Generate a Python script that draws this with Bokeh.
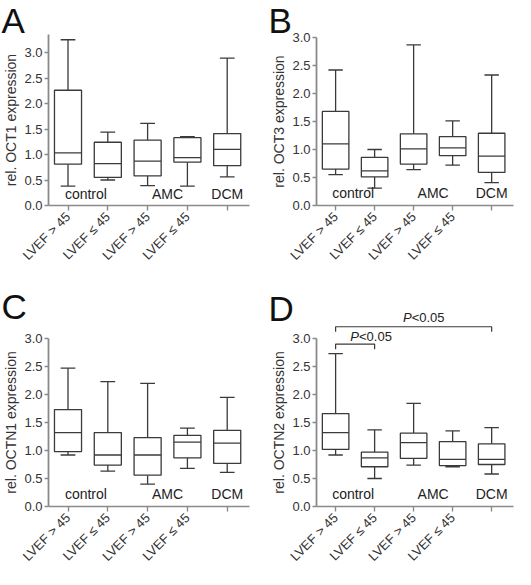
import math
import numpy as np
from bokeh.plotting import figure
from bokeh.models import Range1d, FixedTicker, NumeralTickFormatter
from bokeh.layouts import column, row
from bokeh.core.properties import value
from bokeh.embed import file_html
from bokeh.resources import INLINE

# ---------------- data ----------------
positions = [1, 2, 3, 4, 5]
tick_labels = ["LVEF > 45", "LVEF \u2264 45", "LVEF > 45", "LVEF \u2264 45", ""]
group_names = ["control", "AMC", "DCM"]
group_pos = [1.45, 3.5, 5.0]
y_ticks = [0.0, 0.5, 1.0, 1.5, 2.0, 2.5, 3.0]

# OCT1 (A)
a_lo = [0.38, 0.50, 0.39, 0.38, 0.56]
a_q1 = [0.81, 0.55, 0.58, 0.85, 0.78]
a_med = [1.03, 0.82, 0.87, 0.94, 1.10]
a_q3 = [2.26, 1.24, 1.28, 1.33, 1.41]
a_hi = [3.25, 1.44, 1.61, 1.35, 2.89]

# OCT3 (B)
b_lo = [0.55, 0.31, 0.64, 0.72, 0.41]
b_q1 = [0.65, 0.51, 0.74, 0.89, 0.59]
b_med = [1.10, 0.62, 1.01, 1.03, 0.88]
b_q3 = [1.68, 0.86, 1.28, 1.23, 1.29]
b_hi = [2.42, 1.00, 2.87, 1.51, 2.33]

# OCTN1 (C)
c_lo = [0.92, 0.63, 0.40, 0.68, 0.61]
c_q1 = [0.98, 0.74, 0.56, 0.87, 0.77]
c_med = [1.32, 0.92, 0.92, 1.15, 1.13]
c_q3 = [1.73, 1.32, 1.23, 1.27, 1.36]
c_hi = [2.47, 2.23, 2.20, 1.40, 1.95]

# OCTN2 (D)
d_lo = [0.92, 0.50, 0.74, 0.71, 0.58]
d_q1 = [1.02, 0.71, 0.86, 0.73, 0.75]
d_med = [1.32, 0.87, 1.14, 0.84, 0.84]
d_q3 = [1.66, 0.97, 1.31, 1.16, 1.12]
d_hi = [2.73, 1.37, 1.84, 1.35, 1.41]

# significance brackets in D: (x_start, x_end, line level, text level, text x)
brackets = [(1, 2, 2.90, 3.03, 1.6), (1, 5, 3.21, 3.37, 2.95)]
p_text = "<0.05"

FONT = "Liberation Sans"
LINE = "#3a3a3a"
AXIS = "#8a8a8a"
X0, X1 = 0.51, 5.56


def make_panel(letter, ylabel, lo, q1, med, q3, hi, W, H, axL, axR,
               y0px, ppu, axis_top, letter_px):
    xpp = (X1 - X0) / (axR - axL)
    xr = Range1d(X0 - axL * xpp, X1 + (W - axR) * xpp)
    yr = Range1d(-(H - y0px) / ppu, y0px / ppu)
    p = figure(width=W, height=H, x_range=xr, y_range=yr,
               output_backend="svg", toolbar_location=None, title=None,
               min_border=0, min_border_left=0, min_border_right=0,
               min_border_top=0, min_border_bottom=0)
    p.outline_line_color = None
    p.xgrid.visible = False
    p.ygrid.visible = False
    p.background_fill_color = "white"
    p.border_fill_color = "white"

    xs = np.array(positions, dtype=float)
    lo = np.array(lo); q1 = np.array(q1); med = np.array(med)
    q3 = np.array(q3); hi = np.array(hi)
    bw = 0.68
    cw = 0.37
    lw = 1.3
    p.segment(x0=xs, y0=q3, x1=xs, y1=hi, line_color=LINE, line_width=lw)
    p.segment(x0=xs, y0=lo, x1=xs, y1=q1, line_color=LINE, line_width=lw)
    p.segment(x0=xs - cw / 2, y0=hi, x1=xs + cw / 2, y1=hi, line_color=LINE, line_width=lw)
    p.segment(x0=xs - cw / 2, y0=lo, x1=xs + cw / 2, y1=lo, line_color=LINE, line_width=lw)
    p.vbar(x=xs, width=bw, bottom=q1, top=q3, fill_color="white",
           line_color=LINE, line_width=lw)
    p.segment(x0=xs - bw / 2, y0=med, x1=xs + bw / 2, y1=med, line_color=LINE, line_width=lw)

    p.text(x=group_pos, y=[0.23] * 3, text=group_names,
           text_font=value(FONT), text_font_size="14px", text_align="center",
           text_baseline="middle", text_color="#222222")

    # axes (fixed inside the full-canvas frame)
    xa = p.xaxis[0]
    xa.fixed_location = 0
    xa.bounds = (X0, X1)
    xa.ticker = FixedTicker(ticks=positions)
    xa.major_label_overrides = {float(k): v for k, v in zip(positions, tick_labels)}
    xa.major_label_orientation = math.pi / 4
    xa.major_label_text_font = FONT
    xa.major_label_text_font_size = "13px"
    xa.major_label_text_color = "#333333"
    xa.major_label_standoff = 4
    xa.axis_line_color = AXIS
    xa.axis_line_width = 1.6
    xa.major_tick_line_color = AXIS
    xa.major_tick_line_width = 1.4
    xa.major_tick_out = 5
    xa.major_tick_in = 0
    xa.minor_tick_line_color = None

    ya = p.yaxis[0]
    ya.fixed_location = X0
    ya.bounds = (0, axis_top)
    ya.ticker = FixedTicker(ticks=y_ticks)
    ya.formatter = NumeralTickFormatter(format="0.0")
    ya.major_label_text_font = FONT
    ya.major_label_text_font_size = "13px"
    ya.major_label_text_color = "#333333"
    ya.major_label_standoff = 2
    ya.axis_line_color = AXIS
    ya.axis_line_width = 1.8
    ya.major_tick_line_color = AXIS
    ya.major_tick_line_width = 1.4
    ya.major_tick_out = 4
    ya.major_tick_in = 0
    ya.minor_tick_line_color = None
    ya.axis_label = ylabel
    ya.axis_label_text_font = FONT
    ya.axis_label_text_font_size = "14px"
    ya.axis_label_text_font_style = "normal"
    ya.axis_label_text_color = "#333333"
    ya.axis_label_standoff = 2

    fx, fy = letter_px
    lx = xr.start + fx * xpp
    ly = yr.end - fy / ppu
    p.text(x=[lx], y=[ly], text=[letter], text_font=value(FONT),
           text_font_size="35px", text_baseline="top", text_align="left",
           text_color="#111111")
    return p


pA = make_panel("A", "rel. OCT1 expression", a_lo, a_q1, a_med, a_q3, a_hi,
                258, 285, 48, 249, 205, 51, 3.35, (1, 0))
pB = make_panel("B", "rel. OCT3 expression", b_lo, b_q1, b_med, b_q3, b_hi,
                257, 285, 58, 255, 205, 56, 3.0, (10, 0))
pC = make_panel("C", "rel. OCTN1 expression", c_lo, c_q1, c_med, c_q3, c_hi,
                258, 284, 48, 249, 221, 56, 3.0, (1, 1))
pD = make_panel("D", "rel. OCTN2 expression", d_lo, d_q1, d_med, d_q3, d_hi,
                257, 284, 58, 255, 221, 56, 3.0, (10, 3))

# brackets in D
for xa0, xa1, yl, yt, tx in brackets:
    drop = 0.09
    pD.line(x=[xa0, xa0, xa1, xa1], y=[yl - drop, yl, yl, yl - drop],
            line_color=LINE, line_width=1.2)
    pD.text(x=[tx], y=[yt], text=["P"], text_font=value(FONT),
            text_font_size="13px", text_font_style="italic",
            text_align="right", text_baseline="middle", text_color="#222222")
    pD.text(x=[tx], y=[yt], text=[p_text], text_font=value(FONT),
            text_font_size="13px", text_align="left",
            text_baseline="middle", text_color="#222222")

layout = column(row(pA, pB), row(pC, pD))
open("out.html", "w").write(file_html(layout, INLINE))
